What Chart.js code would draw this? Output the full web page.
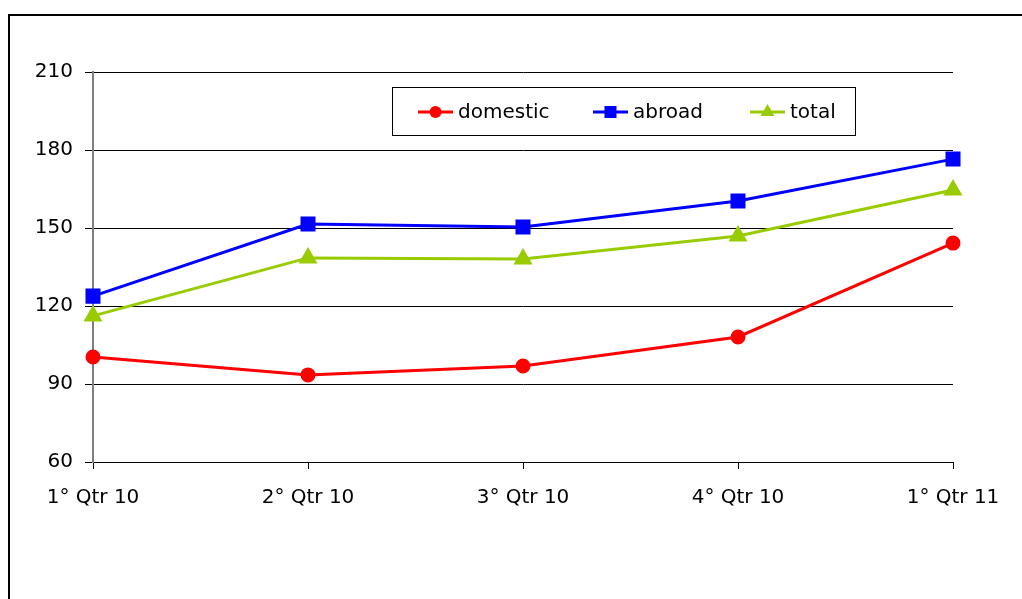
<!DOCTYPE html>
<html>
<head>
  <title>Domestic / abroad / total</title>
  <style>
    html, body { margin: 0; padding: 0; background: #fff; }
    #wrap { width: 1022px; height: 599px; }
  </style>
</head>
<body>
  <div id="wrap"><canvas id="chart" width="1022" height="599"></canvas></div>

  <script src="https://cdn.jsdelivr.net/npm/chart.js@4/dist/chart.umd.min.js"></script>
  <script>
    // Values
    var quarters = ["1° Qtr 10", "2° Qtr 10", "3° Qtr 10", "4° Qtr 10", "1° Qtr 11"];
    var domestic = [100.4, 93.5, 96.9, 108.1, 144.2];
    var abroad = [123.8, 151.5, 150.4, 160.4, 176.5];
    var total = [116.2, 138.5, 138.1, 146.9, 164.6];
    var yTicks = [60, 90, 120, 150, 180, 210];

    var FONT = "DejaVu Sans";

    // outer frame + boxed legend inside the plot
    var framePlugin = {
      id: "frame",
      afterDraw: function (chart) {
        var ctx = chart.ctx;
        ctx.save();
        ctx.strokeStyle = "#000";
        ctx.lineWidth = 2;
        ctx.strokeRect(9, 15, 1030, 600);

        // legend box
        ctx.lineWidth = 1;
        ctx.fillStyle = "#fff";
        ctx.fillRect(392.5, 87.5, 463, 48);
        ctx.strokeRect(392.5, 87.5, 463, 48);

        var items = [[418, 0], [593, 1], [750, 2]];
        ctx.font = "20px " + FONT;
        ctx.textBaseline = "middle";
        items.forEach(function (it) {
          var ds = chart.data.datasets[it[1]];
          var y = 112;
          ctx.strokeStyle = ds.borderColor;
          ctx.lineWidth = 3;
          ctx.beginPath();
          ctx.moveTo(it[0], y);
          ctx.lineTo(it[0] + 35, y);
          ctx.stroke();
          ctx.fillStyle = ds.pointBackgroundColor;
          Chart.helpers.drawPoint(ctx, {
            pointStyle: ds.pointStyle, radius: ds.pointRadius, rotation: 0, borderWidth: 0
          }, it[0] + 17.5, y);
          ctx.fillStyle = "#000";
          ctx.fillText(ds.label, it[0] + 40, y + 1);
        });
        ctx.restore();
      }
    };

    new Chart("chart", {
      type: "line",
      data: {
        labels: quarters,
        datasets: [{
          label: "domestic",
          data: domestic,
          borderColor: "#ff0000",
          backgroundColor: "#ff0000",
          pointBackgroundColor: "#ff0000",
          pointBorderColor: "#ff0000",
          pointStyle: "circle",
          pointRadius: 6,
          borderWidth: 3,
          tension: 0
        }, {
          label: "abroad",
          data: abroad,
          borderColor: "#0000ff",
          backgroundColor: "#0000ff",
          pointBackgroundColor: "#0000ff",
          pointBorderColor: "#0000ff",
          pointStyle: "rect",
          pointRadius: 8.5,
          borderWidth: 3,
          tension: 0
        }, {
          label: "total",
          data: total,
          borderColor: "#99cc00",
          backgroundColor: "#99cc00",
          pointBackgroundColor: "#99cc00",
          pointBorderColor: "#99cc00",
          pointStyle: "triangle",
          pointRadius: 8,
          borderWidth: 3,
          tension: 0
        }]
      },
      options: {
        responsive: false,
        animation: false,
        layout: { padding: { left: 0, top: 72, right: 69, bottom: 0 } },
        plugins: { legend: { display: false }, tooltip: { enabled: false } },
        scales: {
          x: {
            offset: false,
            grid: { drawOnChartArea: false, drawTicks: true, tickLength: 7, color: "#000" },
            border: { color: "#000", width: 1 },
            ticks: { color: "#000", font: { family: FONT, size: 20 }, padding: 17, maxRotation: 0 },
            afterFit: function (s) { s.height = 137; }
          },
          y: {
            min: 60,
            max: 210,
            afterBuildTicks: function (s) { s.ticks = yTicks.map(function (v) { return { value: v }; }); },
            grid: { color: "#000", tickLength: 8, lineWidth: 1 },
            border: { color: "#808080", width: 2 },
            ticks: { color: "#000", font: { family: FONT, size: 20 }, padding: 12 },
            afterFit: function (s) { s.width = 93; }
          }
        }
      },
      plugins: [framePlugin]
    });
  </script>
</body>
</html>
